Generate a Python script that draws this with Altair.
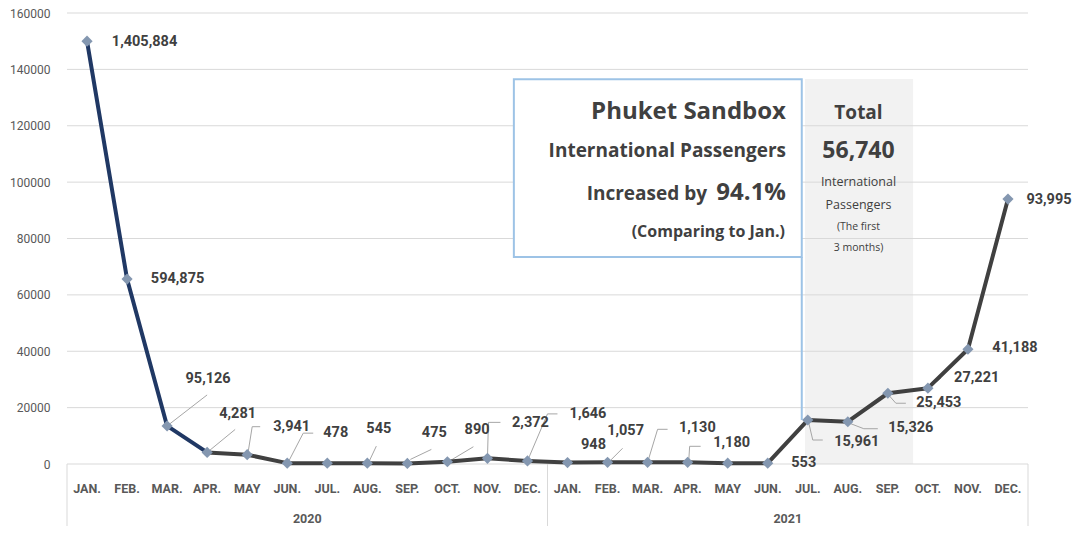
import altair as alt
import pandas as pd

# ---------------- data ----------------
months = ["JAN.", "FEB.", "MAR.", "APR.", "MAY", "JUN.", "JUL.", "AUG.", "SEP.", "OCT.", "NOV.", "DEC."]
years = ["2020", "2021"]
# plotted heights
values_2020 = [150000, 65600, 13500, 4100, 3300, 300, 300, 300, 200, 800, 2000, 1100]
values_2021 = [500, 600, 600, 600, 300, 300, 15600, 15000, 25100, 26900, 40700, 94000]
# printed data labels
labels_2020 = ["1,405,884", "594,875", "95,126", "4,281", "3,941", "478", "", "545", "475", "890", "2,372", "1,646"]
labels_2021 = ["948", "1,057", "1,130", "1,180", "", "553", "15,961", "15,326", "25,453", "27,221", "41,188", "93,995"]
y_ticks = [0, 20000, 40000, 60000, 80000, 100000, 120000, 140000, 160000]

# ---------------- label layout (pixel offsets from each marker) ----------------
label_dx = [57.5, 50.5, 41, 30.5, 44.5, 48.5, 0, 11.5, 27, 29.7, 43, 60.5,
            26, 18, 49.7, 44, 0, 36, 49, 63, 51, 48.8, 47, 41]
label_dy = [1, 0, -47, -38, -28, -30, 0, -34, -30, -31.7, -35, -47,
            -17.7, -31.6, -34.6, -19, 0, 0, 21.7, 6, 9.4, -10.6, -1, 1]
# leader line segments: (point index, x1, y1, x2, y2) in pixels from the marker
leaders = [
    (2, 0, 0, 40, -31),
    (3, 0, 0, 28, -23),
    (4, 1, -3, 5, -28), (4, 5, -28, 13, -28),
    (5, 1, -1, 16, -30), (5, 16, -30, 26, -30),
    (7, 1, 0, 9, -17),
    (8, 3, -4, 24, -14),
    (9, 1, 0, 26, -15),
    (10, 0, 0, 1, -36), (10, 1, -36, 13, -36),
    (11, 0, 0, 20, -47), (11, 20, -47, 30, -47),
    (13, 1, 0, 15, -14),
    (14, 0, 0, 10, -33), (14, 10, -33, 20, -33),
    (15, 1, 0, 2, -16), (15, 2, -16, 13, -16),
    (18, 1, 3, 5, 20), (18, 5, 20, 15, 20),
    (19, 3, 2, 16, 7), (19, 16, 7, 30, 7),
    (20, 1, 2, 8, 10), (20, 8, 10, 18, 10),
    (21, 1, -1, 13, -10),
]

# ---------------- tables ----------------
values = values_2020 + values_2021
labels = labels_2020 + labels_2021
df = pd.DataFrame({
    "idx": list(range(24)),
    "month": months * 2,
    "v": values,
    "label": labels,
    "dx": label_dx,
    "dy": label_dy,
})
lab_df = df[df["label"] != ""]

line_rows = []
for i in range(24):
    if i <= 3:
        line_rows.append({"idx": i, "v": values[i], "seg": "a"})
    if i >= 3:
        line_rows.append({"idx": i, "v": values[i], "seg": "b"})
line_df = pd.DataFrame(line_rows)

lead_df = pd.DataFrame([
    {"idx": p, "v": values[p], "ax": a, "ay": b, "bx": c, "by": d}
    for (p, a, b, c, d) in leaders
])

grid_df = pd.DataFrame({"g": y_ticks})
year_df = pd.DataFrame({"year": years, "pos": [5.5, 17.5]})
sep_df = pd.DataFrame({"pos": [-0.5, 11.5, 23.5]})

# annotation regions (data units)
shade_df = pd.DataFrame([{"x": 17.93, "x2": 20.63, "y": 136600, "y2": 0}])
box_df = pd.DataFrame([{"x": 10.66, "x2": 17.85, "y": 136500, "y2": 73400}])
box_line_df = pd.DataFrame([{"x": 17.85, "y": 73400, "y2": 15600}])

W, H = 961, 451
XS = alt.Scale(domain=[-0.5, 23.5], nice=False, zero=False)
YS = alt.Scale(domain=[0, 160000], nice=False)
TXT = "#404040"
AX = "#595959"
YAX = alt.Axis(values=y_ticks, format="d", labelFont="Roboto", labelFontSize=12,
               labelColor=AX, labelPadding=17, domain=False, ticks=False, grid=False, title=None)


def X(field):
    return alt.X(field, scale=XS, axis=None)


def Y(field):
    return alt.Y(field, scale=YS, axis=YAX)


shade = alt.Chart(shade_df).mark_rect(color="#f2f2f2").encode(
    x=X("x:Q"), x2="x2:Q", y=Y("y:Q"), y2="y2:Q")

grid = alt.Chart(grid_df).mark_rule(color="#d9d9d9", strokeWidth=1).encode(
    y=Y("g:Q"), x=alt.value(0), x2=alt.value(W))

box = alt.Chart(box_df).mark_rect(fill="white", stroke="#9dc3e6", strokeWidth=2).encode(
    x=X("x:Q"), x2="x2:Q", y=Y("y:Q"), y2="y2:Q")

box_line = alt.Chart(box_line_df).mark_rule(color="#9dc3e6", strokeWidth=2).encode(
    x=X("x:Q"), y=Y("y:Q"), y2="y2:Q")

seps = alt.Chart(sep_df).mark_rule(color="#d9d9d9", strokeWidth=1).encode(
    x=X("pos:Q"), y=alt.value(H), y2=alt.value(H + 70))

lead = alt.Chart(lead_df).mark_rule(
    color="#a6a6a6", strokeWidth=1,
    xOffset=alt.ExprRef(expr="datum.ax"), yOffset=alt.ExprRef(expr="datum.ay"),
    x2Offset=alt.ExprRef(expr="datum.bx"), y2Offset=alt.ExprRef(expr="datum.by"),
).encode(x=X("idx:Q"), x2="idx:Q", y=Y("v:Q"), y2="v:Q")

line = alt.Chart(line_df).mark_line(strokeWidth=4, strokeJoin="round", strokeCap="round").encode(
    x=X("idx:Q"), y=Y("v:Q"),
    color=alt.Color("seg:N", scale=alt.Scale(domain=["a", "b"], range=["#203864", "#404040"]), legend=None),
    order="idx:Q")

pts = alt.Chart(df).mark_point(shape="diamond", filled=True, size=125, color="#8497b0", opacity=1).encode(
    x=X("idx:Q"), y=Y("v:Q"))

dlabels = alt.Chart(lab_df).mark_text(
    font="Roboto", fontSize=14.5, fontWeight="bold", color=TXT, align="center", baseline="middle",
    dx=alt.ExprRef(expr="datum.dx"), dy=alt.ExprRef(expr="datum.dy"),
).encode(x=X("idx:Q"), y=Y("v:Q"), text="label:N")

mlabels = alt.Chart(df).mark_text(
    font="Roboto", fontSize=12.5, fontWeight="bold", color=AX, align="center", baseline="middle",
).encode(x=X("idx:Q"), y=alt.value(H + 25), text="month:N")

ylabels = alt.Chart(year_df).mark_text(
    font="Roboto", fontSize=12.5, fontWeight="bold", color=AX, align="center", baseline="middle",
).encode(x=X("pos:Q"), y=alt.value(H + 55), text="year:N")


def note(text, x, y, size, align="center", weight="bold", baseline="middle"):
    return alt.Chart(pd.DataFrame({"t": [text]})).mark_text(
        font="Open Sans", fontSize=size, fontWeight=weight, color=TXT,
        align=align, baseline=baseline,
    ).encode(x=alt.value(x), y=alt.value(y), text="t:N")


notes = [
    note("Phuket Sandbox", 719, 98.7, 24, align="right"),
    note("International Passengers", 719, 137.7, 19, align="right"),
    note("Increased by", 640, 187, 19, align="right", baseline="alphabetic"),
    note("94.1%", 719, 187, 24, align="right", baseline="alphabetic"),
    note("(Comparing to Jan.)", 718, 219, 16, align="right"),
    note("Total", 791.5, 100, 19),
    note("56,740", 791.5, 138, 23),
    note("International", 791.5, 169, 12.5, weight="normal"),
    note("Passengers", 791.5, 192, 12.5, weight="normal"),
    note("(The first", 791.5, 214, 10.5, weight="normal"),
    note("3 months)", 791.5, 235, 10.5, weight="normal"),
]

chart = alt.layer(
    shade, grid, box, box_line, seps, lead, line, pts, dlabels, mlabels, ylabels, *notes
).properties(
    width=W, height=H,
    autosize=alt.AutoSizeParams(type="none"),
    padding={"left": 59, "top": 5, "right": 45, "bottom": 62},
    background="white",
).configure_view(stroke=None)

chart.save("out.html", embed_options={"renderer": "svg", "actions": False})
